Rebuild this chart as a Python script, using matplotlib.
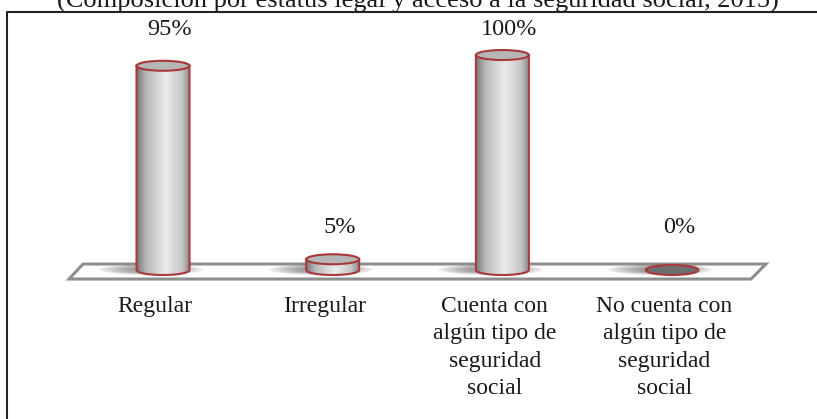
import numpy as np
import matplotlib
matplotlib.use("Agg")
import matplotlib.pyplot as plt
from matplotlib.patches import Ellipse, Polygon, PathPatch
from matplotlib.path import Path
from matplotlib.colors import LinearSegmentedColormap
from matplotlib.lines import Line2D

# data
categories = ["Regular", "Irregular",
              "Cuenta con\nalgún tipo de\nseguridad\nsocial",
              "No cuenta con\nalgún tipo de\nseguridad\nsocial"]
values = [95, 5, 100, 0]
value_labels = ["95%", "5%", "100%", "0%"]
title = "(Composición por estatus legal y acceso a la seguridad social, 2015)"

plt.rcParams['font.family'] = ['Liberation Serif', 'DejaVu Serif']

red_edge = '#a8383a'
floor_gray = '#8e8e8e'
body_cmap = LinearSegmentedColormap.from_list(
    "cyl", [(0.0, '#7a7a7a'), (0.18, '#b9b9b9'), (0.55, '#ececec'),
            (0.85, '#c6c6c6'), (1.0, '#8c8c8c')])

fig = plt.figure(figsize=(8.17, 4.19), dpi=100)
ax = fig.add_axes([0, 0, 1, 1])
ax.axis('off')

bar_w = 0.312      # cylinder width in category units
ell_h = 4.65       # ellipse height in value units

# floor of the 3d chart
floor = Polygon([(-0.554, -4.19), (3.465, -4.19), (3.553, 2.79), (-0.471, 2.79)],
                closed=True, fc='white', ec=floor_gray, lw=2.2, zorder=1)
ax.add_patch(floor)

# soft shadows on the floor, pushed a little to the left
for i, v in enumerate(values):
    for k in range(8):
        sh = Ellipse((i - 0.07, 0.2), 0.62 - k * 0.05, 5.0 - k * 0.3,
                     fc='#555555', ec='none', alpha=0.09, zorder=2)
        ax.add_patch(sh)
        sh.set_clip_path(floor)

grad = np.linspace(0, 1, 256)[np.newaxis, :]
for i, v in enumerate(values):
    x0, x1 = i - bar_w / 2, i + bar_w / 2
    if v > 0:
        t = np.linspace(np.pi, 2 * np.pi, 40)
        arc = np.column_stack([i + bar_w / 2 * np.cos(t), ell_h / 2 * np.sin(t)])
        verts = np.vstack([[(x0, v)], arc, [(x1, v)], [(x0, v)]])
        codes = [Path.MOVETO] + [Path.LINETO] * (len(verts) - 2) + [Path.CLOSEPOLY]
        body_path = Path(verts, codes)
        clip = PathPatch(body_path, transform=ax.transData, fc='none', ec='none')
        im = ax.imshow(grad, cmap=body_cmap, aspect='auto',
                       extent=[x0, x1, -ell_h / 2, v], zorder=3)
        im.set_clip_path(clip)
        ax.add_patch(PathPatch(body_path, fc='none', ec=red_edge, lw=1.5, zorder=4))
    top_fc = '#6e6e6e' if v == 0 else '#b6b6b6'
    ax.add_patch(Ellipse((i, v), bar_w, ell_h, fc=top_fc, ec=red_edge, lw=1.5, zorder=5))

    ly = 112 if v > 50 else 20
    ax.text(i + 0.04, ly, value_labels[i], ha='center', va='center',
            fontsize=17.5, color='#1a1a1a')
    ax.text(i - 0.045, -12.1, categories[i], ha='center', va='top',
            fontsize=17, linespacing=1.4, color='#1a1a1a')

ax.set_xlim(-0.9605, 3.854)
ax.set_ylim(-69.3, 125.6)

# frame (only left and top edges are visible in the crop)
fig.add_artist(Line2D([0.0086, 0.0086, 1.0], [0.0, 0.9714, 0.9714],
                      transform=fig.transFigure, color='#222222', lw=1.5))
fig.text(0.512, 1 - 8 / 419, title, ha='center', va='baseline',
         fontsize=19, color='#1a1a1a')

fig.savefig('out.png', dpi=100)
